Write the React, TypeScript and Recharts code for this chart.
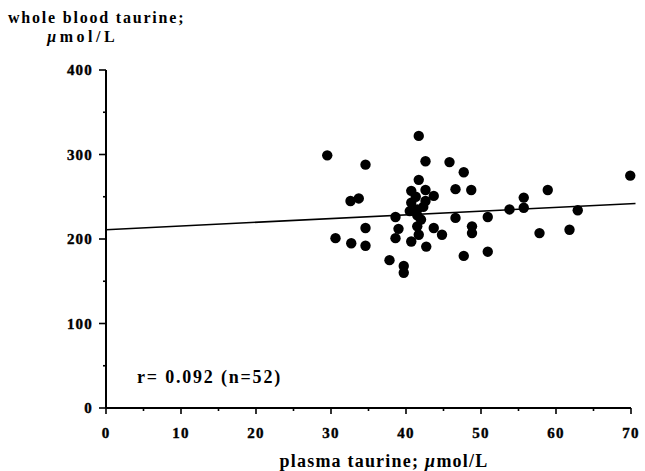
import { ReferenceLine, Scatter, ScatterChart, XAxis, YAxis } from "recharts";

// plasma taurine (µmol/L) vs whole blood taurine (µmol/L), n = 52
const plasmaTaurine = [
  29.5, 30.6, 32.6, 33.7, 32.7, 34.6, 34.6, 34.6, 37.8, 38.6, 38.6, 39.0, 39.7,
  39.7, 40.7, 40.7, 40.7, 41.7, 41.7, 41.5, 41.5, 41.7, 42.6, 42.6, 42.6, 42.7,
  43.7, 43.7, 44.8, 45.8, 46.6, 46.6, 47.7, 47.7, 48.7, 48.8, 48.8, 50.9, 50.9,
  53.8, 55.7, 55.7, 57.8, 58.9, 61.8, 62.9, 69.9, 41.5, 42.0, 41.3, 40.5, 42.3,
];
const wholeBloodTaurine = [
  299, 201, 245, 248, 195, 288, 213, 192, 175, 226, 201, 212, 168, 160, 257,
  243, 197, 322, 270, 235, 215, 205, 292, 258, 245, 191, 251, 213, 205, 291,
  259, 225, 279, 180, 258, 215, 207, 226, 185, 235, 249, 237, 207, 258, 211,
  234, 275, 228, 223, 250, 233, 238,
];

const xTicks = [0, 5, 10, 15, 20, 25, 30, 35, 40, 45, 50, 55, 60, 65, 70];
const yTicks = [0, 50, 100, 150, 200, 250, 300, 350, 400];

// regression line
const fitIntercept = 211;
const fitSlope = 0.44;
const fitXEnd = 70.6;

const data = plasmaTaurine.map((x, i) => ({ x, y: wholeBloodTaurine[i] }));

const FONT = "'Liberation Serif', 'Times New Roman', serif";

const XTick = (props: any) => {
  const { x, y, payload } = props;
  const major = payload.value % 10 === 0;
  return (
    <g>
      <line x1={x} x2={x} y1={y} y2={y + (major ? 6 : 3)} stroke="#000" strokeWidth={1.6} />
      {major && (
        <text
          x={x}
          y={y + 30}
          textAnchor="middle"
          fontFamily={FONT}
          fontWeight="bold"
          fontSize={15}
          letterSpacing={1.2}
          fill="#000"
          stroke="#000"
          strokeWidth={0.4}
        >
          {payload.value}
        </text>
      )}
    </g>
  );
};

const YTick = (props: any) => {
  const { x, y, payload } = props;
  const major = payload.value % 100 === 0;
  return (
    <g>
      <line x1={x} x2={x - (major ? 7 : 3)} y1={y} y2={y} stroke="#000" strokeWidth={1.6} />
      {major && (
        <text
          x={x - 13}
          y={y + 5}
          textAnchor="end"
          fontFamily={FONT}
          fontWeight="bold"
          fontSize={15}
          letterSpacing={1.2}
          fill="#000"
          stroke="#000"
          strokeWidth={0.4}
        >
          {payload.value}
        </text>
      )}
    </g>
  );
};

const Dot = (props: any) => {
  const { cx, cy } = props;
  return <circle cx={cx} cy={cy} r={5.2} fill="#000" />;
};

export default function App() {
  return (
    <div
      style={{
        position: "absolute",
        left: 0,
        top: 0,
        width: 645,
        height: 471,
        background: "#fff",
      }}
    >
      <ScatterChart
        width={645}
        height={471}
        margin={{ top: 70, right: 14, left: 0, bottom: 0 }}
      >
        <XAxis
          type="number"
          dataKey="x"
          domain={[0, 70]}
          ticks={xTicks}
          interval={0}
          height={63}
          tickSize={0}
          tickMargin={0}
          tickLine={false}
          axisLine={{ stroke: "#000", strokeWidth: 2 }}
          tick={<XTick />}
        />
        <YAxis
          type="number"
          dataKey="y"
          domain={[0, 400]}
          ticks={yTicks}
          interval={0}
          width={106}
          tickSize={0}
          tickMargin={0}
          tickLine={false}
          axisLine={{ stroke: "#000", strokeWidth: 2 }}
          tick={<YTick />}
        />
        <ReferenceLine
          segment={[
            { x: 0, y: fitIntercept },
            { x: fitXEnd, y: fitIntercept + fitSlope * fitXEnd },
          ]}
          stroke="#000"
          strokeWidth={1.6}
          ifOverflow="visible"
        />
        <Scatter data={data} shape={<Dot />} isAnimationActive={false} />
      </ScatterChart>
      <svg
        width={645}
        height={471}
        style={{ position: "absolute", left: 0, top: 0, pointerEvents: "none" }}
      >
        <g fontFamily={FONT} fontWeight="bold" fill="#000">
          <text x={8} y={23} fontSize={16} letterSpacing={1.8}>
            whole blood taurine;
          </text>
          <text x={47} y={42} fontSize={16} letterSpacing={3.5}>
            <tspan fontStyle="italic">µ</tspan>mol/L
          </text>
          <text x={137} y={383} fontSize={18} letterSpacing={1.8}>
            r= 0.092 (n=52)
          </text>
          <text x={384} y={467} fontSize={18} letterSpacing={1.2} textAnchor="middle">
            plasma taurine; <tspan fontStyle="italic">µ</tspan>mol/L
          </text>
        </g>
      </svg>
    </div>
  );
}
